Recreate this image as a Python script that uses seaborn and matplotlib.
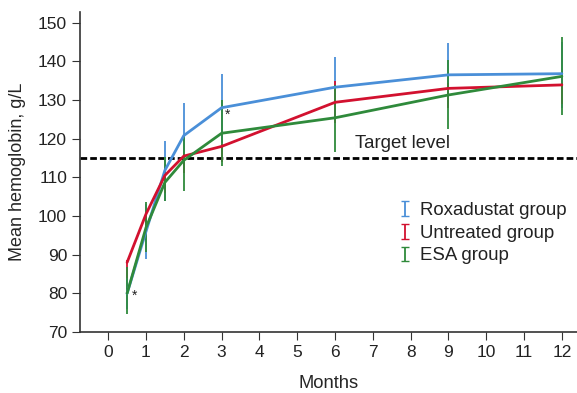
import numpy as np
import pandas as pd
import matplotlib
matplotlib.use("Agg")
import matplotlib.pyplot as plt
from matplotlib.container import ErrorbarContainer
from matplotlib.legend_handler import HandlerErrorbar
import seaborn as sns

months = [0.5, 1, 1.5, 2, 3, 6, 9, 12]

roxa_mean = [80.0, 96.0, 111.8, 120.8, 128.0, 133.3, 136.5, 136.8]
roxa_lo = [76.0, 89.0, 104.0, 112.0, 119.0, 125.0, 128.0, 128.0]
roxa_hi = [84.0, 103.0, 119.3, 129.3, 136.8, 141.0, 144.7, 145.0]

untr_mean = [88.0, 100.5, 110.5, 115.5, 118.0, 129.4, 133.0, 133.9]
untr_lo = [84.0, 96.0, 106.0, 111.0, 114.0, 124.0, 128.0, 129.0]
untr_hi = [88.6, 101.0, 110.8, 116.0, 118.5, 135.0, 134.5, 134.5]

esa_mean = [80.0, 97.0, 108.7, 114.4, 121.4, 125.4, 131.3, 136.1]
esa_lo = [74.6, 90.7, 104.0, 106.5, 112.9, 116.5, 122.6, 126.0]
esa_hi = [86.9, 103.6, 115.2, 120.8, 130.0, 134.0, 140.4, 146.2]

groups = ["Roxadustat group", "Untreated group", "ESA group"]
colors = ["#4a8fd8", "#d2112f", "#2f8a3b"]
target = 115

df = pd.DataFrame({
    "month": months * 3,
    "hb": roxa_mean + untr_mean + esa_mean,
    "group": [g for g in groups for _ in months],
})
bars = {
    "Roxadustat group": (roxa_mean, roxa_lo, roxa_hi),
    "Untreated group": (untr_mean, untr_lo, untr_hi),
    "ESA group": (esa_mean, esa_lo, esa_hi),
}

sns.set_style("ticks")
plt.rcParams["font.family"] = ["Liberation Sans", "DejaVu Sans"]
plt.rcParams["text.color"] = "#222222"

fig = plt.figure(figsize=(5.77, 3.93), dpi=100)
ax = fig.add_axes([0.139, 0.155, 0.861, 0.814])

sns.lineplot(data=df, x="month", y="hb", hue="group", palette=colors,
             hue_order=groups, linewidth=2, legend=False, ax=ax, zorder=3)

for g, c in zip(groups, colors):
    m, lo, hi = bars[g]
    m = np.array(m)
    yerr = [m - np.array(lo), np.array(hi) - m]
    ax.errorbar(months, m, yerr=yerr, fmt="none", ecolor=c, elinewidth=1.3,
                capsize=0, zorder=2)

ax.axhline(target, color="black", linewidth=2, linestyle=(0, (2.4, 1.1)), zorder=1)
ax.text(6.53, 118.8, "Target level", fontsize=13.4, va="center", ha="left")

ax.text(0.70, 79.3, "*", fontsize=10, ha="center", va="center")
ax.text(3.15, 126.1, "*", fontsize=10, ha="center", va="center")

# legend with errorbar-style handles
handles = []
for g, c in zip(groups, colors):
    h = ax.errorbar([np.nan], [np.nan], yerr=[1], fmt="none", ecolor=c,
                    elinewidth=1.3, capsize=3, label=g)
    handles.append(h)
fig.legend(handles=handles, labels=groups, loc="upper left",
           bbox_to_anchor=(0.661, 0.528), frameon=False, fontsize=13.4,
           handlelength=0.75, handletextpad=0.45, labelspacing=0.3,
           handler_map={ErrorbarContainer: HandlerErrorbar(xerr_size=0.4)})

ax.set_xlim(-0.74, 12.4)
ax.set_ylim(70, 152.7)
ax.set_xticks(range(0, 13))
ax.set_yticks(range(70, 151, 10))
ax.tick_params(labelsize=12.5, length=6, color="#333333", labelcolor="#222222")
ax.set_xlabel("Months", fontsize=13.2)
ax.set_ylabel("Mean hemoglobin, g/L", fontsize=13)
ax.yaxis.set_label_coords(-0.11, 0.5)
ax.xaxis.set_label_coords(0.5, -0.135)
sns.despine(ax=ax)
for s in ["left", "bottom"]:
    ax.spines[s].set_color("#333333")
    ax.spines[s].set_linewidth(1.2)

fig.savefig("out.png", dpi=100)
